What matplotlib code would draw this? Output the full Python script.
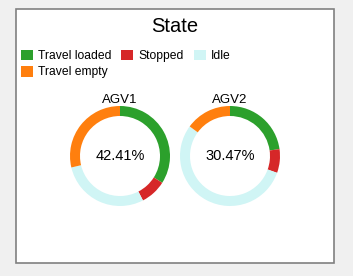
import matplotlib
matplotlib.use("Agg")
import matplotlib.pyplot as plt
from matplotlib.patches import Rectangle, Patch

plt.rcParams['font.family'] = ['Liberation Sans', 'DejaVu Sans']

# ---- data ----
states = ["Travel loaded", "Stopped", "Idle", "Travel empty"]
colors = ["#2ca02c", "#d62728", "#d0f5f5", "#ff7f0e"]
agvs = ["AGV1", "AGV2"]
agv1_values = [34.0, 8.41, 28.9, 28.69]
agv2_values = [22.8, 7.67, 54.6, 14.93]
center_labels = ["42.41%", "30.47%"]
title = "State"

W, H = 353, 276
fig = plt.figure(figsize=(W / 100, H / 100), dpi=100)
fig.patch.set_facecolor("#f0f0f0")

def fx(x):
    return x / W

def fy(y):
    return 1 - y / H

# white framed panel
fig.patches.append(Rectangle((fx(15.5), fy(262.5)), (334 - 15.5) / W, (262.5 - 8.5) / H,
                             transform=fig.transFigure, facecolor="white",
                             edgecolor="#808080", linewidth=1.2, zorder=-5))

fig.text(fx(175), fy(26.5), title, ha="center", va="center", fontsize=14.5, color="black")

# legend: reorder so rows read loaded, stopped, idle / empty
handles = [Patch(facecolor=c, edgecolor="none") for c in colors]
order = [0, 3, 1, 2]
leg = fig.legend([handles[i] for i in order], [states[i] for i in order],
                 ncol=3, loc="upper left", bbox_to_anchor=(fx(21), fy(49.5)),
                 frameon=False, fontsize=8.7, handlelength=1.0, handleheight=1.0,
                 handletextpad=0.42, columnspacing=0.8, labelspacing=0.32,
                 borderpad=0, borderaxespad=0)
leg.set_zorder(5)

all_values = [agv1_values, agv2_values]
centers_x = [120, 230]
cy = 156
r = 50
for name, vals, lab, cx in zip(agvs, all_values, center_labels, centers_x):
    ax = fig.add_axes([fx(cx - r), fy(cy + r), 2 * r / W, 2 * r / H])
    ax.set_zorder(2)
    ax.pie(vals, colors=colors, startangle=90, counterclock=False, radius=1.0,
           wedgeprops=dict(width=0.2, edgecolor="none", linewidth=0))
    ax.set_xlim(-1, 1)
    ax.set_ylim(-1, 1)
    ax.set_aspect("auto")
    ax.axis("off")
    ax.text(0, 1.12, name, ha="center", va="center", fontsize=9.5, color="black")
    ax.text(0, 0, lab, ha="center", va="center", fontsize=10.5, color="black")

fig.savefig("out.png", dpi=100, facecolor=fig.get_facecolor())
